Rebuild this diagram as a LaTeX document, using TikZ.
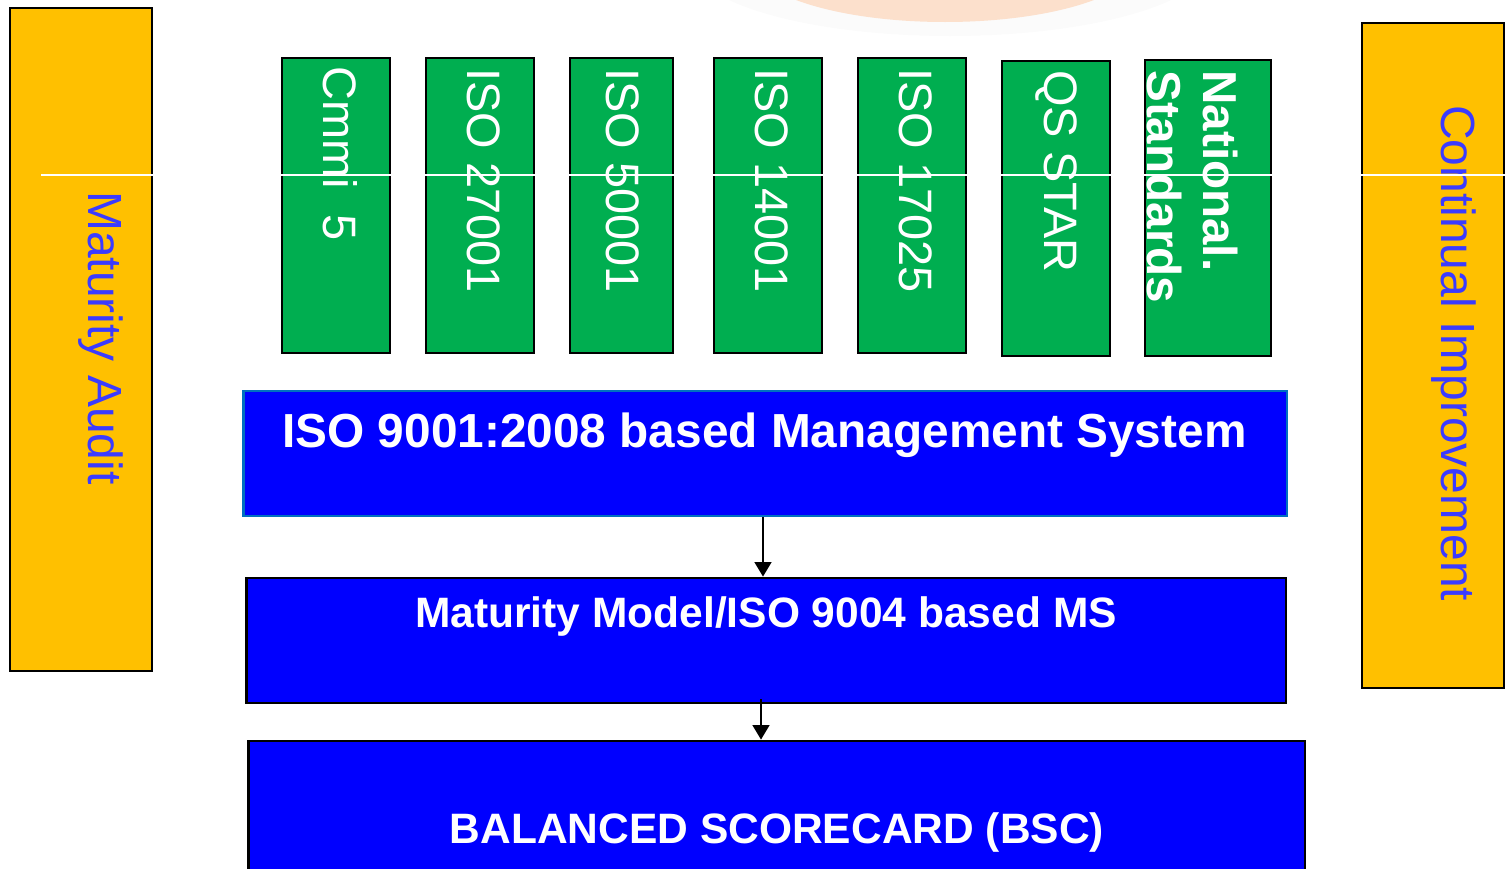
\documentclass[tikz,border=0pt]{standalone}
\usepackage{fontspec}
\setmainfont{Liberation Sans}
\usetikzlibrary{arrows.meta,calc,positioning}
\definecolor{stdgreen}{RGB}{0,174,80}
\definecolor{sideorange}{RGB}{255,192,0}
\definecolor{sideblue}{RGB}{59,59,255}
\definecolor{msblue}{RGB}{0,0,255}
\definecolor{msedge}{RGB}{0,112,192}
\definecolor{glow}{RGB}{252,224,204}

\begin{document}
\begin{tikzpicture}[x=0.02cm,y=-0.02cm,
    sidebox/.style={draw=black,line width=1.6pt,fill=sideorange,minimum width=2.84cm},
    sidetext/.style={rotate=-90,anchor=base west,inner sep=0pt,text=sideblue,font=\fontsize{27.3}{32}\selectfont},
    stdbox/.style={draw=black,line width=1.6pt,fill=stdgreen,minimum width=2.16cm,minimum height=5.9cm},
    stdtext/.style={rotate=-90,anchor=base west,inner sep=0pt,text=white,font=\fontsize{26.7}{31.7}\selectfont},
    msbox/.style={draw=black,line width=1.6pt,fill=msblue,minimum height=2.5cm},
    mstext/.style={anchor=base,inner sep=0pt,text=white,font=\bfseries\fontsize{24.2}{29}\selectfont},
    flow/.style={-{Triangle[width=9.5pt,length=8.2pt]},line width=1.1pt}]
		\useasboundingbox (0,0) rectangle (1505,869);
		\fill[black!1.5] (950,-40) ellipse [x radius=260, y radius=76];
		\fill[glow] (945,-40) ellipse [x radius=195, y radius=62];
		\node[sidebox,minimum height=13.26cm] (audit) at (81,339.5) {};
		\node[sidebox,minimum height=13.3cm] (improve) at (1433,355.5) {};
		\node[sidetext] (audittxt) at (88,191) {Maturity Audit};
		\node[sidetext] (improvetxt) at (1441,105) {Continual Improvement};
		\node[stdbox] (cmmi) at (336,205.5) {};
		\node[stdbox] (iso27) at (480,205.5) {};
		\node[stdbox,minimum width=2.06cm] (iso50) at (621.5,205.5) {};
		\node[stdbox] (iso14) at (768,205.5) {};
		\node[stdbox] (iso17) at (912,205.5) {};
		\node[stdbox] (qs) at (1056,208.5) {};
		\node[stdbox,minimum width=2.52cm,minimum height=5.92cm] (natl) at (1208,208) {};
		\node[stdtext] (cmmitxt) at (323,66) {Cmmi\ \ 5};
		\node[stdtext] (iso27txt) at (467,68) {ISO 27001};
		\node[stdtext] (iso50txt) at (606,68) {ISO 50001};
		\node[stdtext] (iso14txt) at (755,68) {ISO 14001};
		\node[stdtext] (iso17txt) at (899,68) {ISO 17025};
		\node[stdtext] (qstxt) at (1044,70) {QS STAR};
		\node[stdtext,font=\bfseries\fontsize{27.1}{31.7}\selectfont] (natltxt) at (1203,70) {National.};
		\node[stdtext,font=\bfseries\fontsize{27.1}{31.7}\selectfont] (stdstxt) at (1147,70) {Standards};
		\node[msbox,draw=msedge,minimum width=20.88cm] (iso9001) at (765,453.5) {};
		\node[msbox,minimum width=20.8cm] (mm) at (766,640.5) {};
		\node[msbox,minimum width=21.14cm,minimum height=3.18cm] (bsc) at (776.5,820.5) {};
		\node[mstext,font=\bfseries\fontsize{27.2}{32}\selectfont] (iso9001txt) at (764.5,447) {ISO 9001:2008 based Management System};
		\node[mstext] (mmtxt) at (766,627) {Maturity Model/ISO 9004 based MS};
		\node[mstext] (bsctxt) at (777,843) {BALANCED SCORECARD (BSC)};
		\coordinate (ax) at (763,0);
		\coordinate (bx) at (761,0);
		\draw[flow] (iso9001.south -| ax) -- (mm.north -| ax);
		\draw[flow] ($(mm.south -| bx)+(0,-5)$) -- (bsc.north -| bx);
		\draw[white,line width=0.6pt] (41,175) -- (1505,175);
		\end{tikzpicture}
\end{document}
